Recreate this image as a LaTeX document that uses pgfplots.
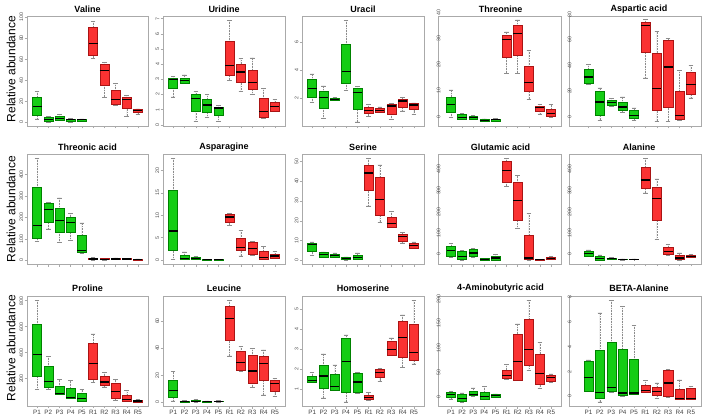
\documentclass[border=0pt]{standalone}
\usepackage{fontspec}
\setmainfont{Liberation Sans}
\usepackage{pgfplots}
\pgfplotsset{compat=1.18}
\usepgfplotslibrary{statistics}
\definecolor{gfill}{RGB}{20,205,20}
\definecolor{gline}{RGB}{0,130,0}
\definecolor{rfill}{RGB}{250,50,50}
\definecolor{rline}{RGB}{170,20,20}
\definecolor{wcol}{RGB}{140,140,140}
\definecolor{frm}{RGB}{170,170,170}
\pgfplotsset{
  /pgfplots/boxplot/draw/lower whisker/.code={%
    \draw[wcol, line width=0.4pt, dash pattern=on 0.8pt off 0.8pt]
      (boxplot cs:\pgfplotsboxplotvalue{lower whisker}) -- (boxplot cs:\pgfplotsboxplotvalue{lower quartile});
    \draw[wcol, line width=0.4pt, solid]
      (boxplot whisker cs:\pgfplotsboxplotvalue{lower whisker},0) -- (boxplot whisker cs:\pgfplotsboxplotvalue{lower whisker},1);
  },
  /pgfplots/boxplot/draw/upper whisker/.code={%
    \draw[wcol, line width=0.4pt, dash pattern=on 0.8pt off 0.8pt]
      (boxplot cs:\pgfplotsboxplotvalue{upper whisker}) -- (boxplot cs:\pgfplotsboxplotvalue{upper quartile});
    \draw[wcol, line width=0.4pt, solid]
      (boxplot whisker cs:\pgfplotsboxplotvalue{upper whisker},0) -- (boxplot whisker cs:\pgfplotsboxplotvalue{upper whisker},1);
  },
  panel/.style={
    scale only axis, anchor=north west, height=110pt,
    axis line style={frm, line width=0.6pt},
    tick style={frm, line width=0.4pt},
    tick align=outside, major tick length=2.5pt,
    xtick={1,...,10}, xticklabel=\empty,
    xtick pos=left, ytick pos=left,
    yticklabel style={font=\fontsize{5.2}{6}\selectfont, text=black!70, rotate=90, anchor=south, inner sep=1pt},
    /pgf/number format/assume math mode=true,
    boxplot/draw direction=y,
    boxplot/box extend=0.8, boxplot/whisker extend=0.4,
    boxplot/every median/.style={draw=black, line width=1.2pt},
    clip=false,
  },
  c1/.style={panel, at={(27pt,#1)}, width=121pt, xmin=0.1, xmax=10.9},
  c2/.style={panel, at={(163pt,#1)}, width=122pt, xmin=0.1, xmax=10.9},
  c3/.style={panel, at={(302pt,#1)}, width=122pt, xmin=0.1, xmax=10.9},
  c4/.style={panel, at={(438pt,#1)}, width=123pt, xmin=-0.17, xmax=10.9,
     ytick style={draw=none}, yticklabel style={anchor=north, xshift=5.5pt}},
  c5/.style={panel, at={(569pt,#1)}, width=132pt, xmin=-0.71, xmax=10.88,
     ytick style={draw=none}, yticklabel style={anchor=north, xshift=5.5pt}},
  bot/.style={xticklabels={P1,P2,P3,P4,P5,R1,R2,R3,R4,R5},
     xticklabel style={font=\fontsize{6.3}{7}\selectfont, text=black!75, inner sep=1pt}},
}
\newcommand{\gb}[6]{\addplot[draw=gline, fill=gfill, line width=0.4pt, boxplot prepared={draw position=#1, upper whisker=#2, upper quartile=#3, median=#4, lower quartile=#5, lower whisker=#6}] coordinates {};}
\newcommand{\rb}[6]{\addplot[draw=rline, fill=rfill, line width=0.4pt, boxplot prepared={draw position=#1, upper whisker=#2, upper quartile=#3, median=#4, lower quartile=#5, lower whisker=#6}] coordinates {};}
\begin{document}
\begin{tikzpicture}
\path[use as bounding box] (0,0) rectangle (704pt,418pt);
% ---------- titles and y labels
\begin{scope}[every node/.style={font=\fontsize{9}{10}\selectfont\bfseries}]
\node at (87.5pt,409pt) {Valine};
\node at (224pt,409pt) {Uridine};
\node at (363pt,409pt) {Uracil};
\node at (500.5pt,409pt) {Threonine};
\node at (639pt,409pt) {Aspartic acid};
\node at (87.5pt,271pt) {Threonic acid};
\node at (224pt,271pt) {Asparagine};
\node at (363pt,271pt) {Serine};
\node at (500.5pt,271pt) {Glutamic acid};
\node at (639pt,271pt) {Alanine};
\node at (87.5pt,129.5pt) {Proline};
\node at (224pt,129.5pt) {Leucine};
\node at (363pt,129.5pt) {Homoserine};
\node at (500.5pt,129.5pt) {4-Aminobutyric acid};
\node at (639pt,129.5pt) {BETA-Alanine};
\end{scope}
\begin{scope}[every node/.style={font=\fontsize{12}{13}\selectfont, rotate=90}]
\node at (11pt,349pt) {Relative abundance};
\node at (11pt,209pt) {Relative abundance};
\node at (11pt,70pt) {Relative abundance};
\end{scope}
% ================= Row 1
\begin{axis}[c1=402pt, ymin=-3.4, ymax=100.9, ytick={0,20,...,100}]
\gb{1}{29.7}{24}{15}{7}{3.5}
\gb{2}{6}{4.7}{2.8}{1}{0.5}
\gb{3}{7.8}{6}{4}{2.5}{2}
\gb{4}{3.7}{3.4}{2.5}{1}{0.5}
\gb{5}{3.4}{3}{2.5}{1.5}{1.2}
\rb{6}{96}{90}{74.5}{64}{61}
\rb{7}{57}{55}{49.4}{35}{24}
\rb{8}{37}{31}{21.6}{17}{16.5}
\rb{9}{25.6}{24}{22}{13.4}{6}
\rb{10}{13}{12.5}{11}{9.4}{7.8}
\end{axis}
\begin{axis}[c2=402pt, ymin=-0.08, ymax=7.17, ytick={0,1,...,7}]
\gb{1}{3.2}{3.06}{2.98}{2.4}{1.84}
\gb{2}{3.3}{3.1}{2.9}{2.75}{2.75}
\gb{3}{2.2}{2}{1.75}{0.92}{0.22}
\gb{4}{2}{1.68}{1.3}{0.85}{0.48}
\gb{5}{1.3}{1.18}{1.1}{0.66}{0.22}
\rb{6}{6.9}{5.5}{3.9}{3.28}{2.95}
\rb{7}{4.38}{3.98}{3.48}{2.78}{2.19}
\rb{8}{4.42}{3.6}{2.78}{2.34}{2.0}
\rb{9}{2.4}{1.73}{0.85}{0.48}{0.44}
\rb{10}{1.68}{1.47}{1.18}{0.92}{0.92}
\end{axis}
\begin{axis}[c3=402pt, ymin=0.04, ymax=7.83, ytick={2,4,6}]
\gb{1}{3.74}{3.32}{2.68}{2.09}{1.70}
\gb{2}{2.89}{2.49}{2.05}{1.30}{0.57}
\gb{3}{2.05}{1.98}{1.91}{1.86}{1.84}
\gb{4}{7.54}{5.85}{3.88}{3.08}{2.56}
\gb{5}{2.85}{2.75}{2.42}{1.25}{0.33}
\rb{6}{1.58}{1.35}{1.11}{0.92}{0.73}
\rb{7}{1.39}{1.27}{1.15}{1.01}{1.0}
\rb{8}{1.63}{1.58}{1.46}{0.87}{0.5}
\rb{9}{2.05}{1.95}{1.81}{1.39}{1.11}
\rb{10}{1.67}{1.63}{1.53}{1.20}{0.85}
\end{axis}
\begin{axis}[c4=402pt, ymin=-1.5, ymax=40.8, ytick={0,10,...,40}]
\gb{1}{12.4}{9.6}{6.7}{3.8}{1.7}
\gb{2}{3.4}{2.9}{1.9}{1.3}{1.0}
\gb{3}{2.6}{2.2}{1.7}{1.15}{1.0}
\gb{4}{1.3}{1.0}{0.65}{0.4}{0.3}
\gb{5}{1.4}{1.3}{1.0}{0.5}{0.4}
\rb{6}{34.7}{33.6}{31.9}{24.9}{18.8}
\rb{7}{39.3}{37.3}{34.1}{25.8}{18.8}
\rb{8}{27.7}{21.5}{15.2}{11.9}{8.8}
\rb{9}{6.8}{6.1}{5.5}{4.1}{3.2}
\rb{10}{6.7}{5.1}{3.2}{2.3}{1.9}
\end{axis}
\begin{axis}[c5=402pt, ymin=-3, ymax=83, ytick={0,20,...,80}]
\gb{1}{45.2}{41.3}{35.3}{30.8}{29.5}
\gb{2}{26.9}{24.3}{15.7}{5.5}{1.6}
\gb{3}{18.6}{17.2}{15.1}{13.1}{12.5}
\gb{4}{19.8}{15.7}{11.8}{9.2}{7.8}
\gb{5}{11.2}{9.4}{5.2}{2.9}{1.6}
\rb{6}{80.5}{77.9}{75.8}{54.9}{34.7}
\rb{7}{70.8}{53.9}{26.4}{9.2}{0.8}
\rb{8}{65.3}{64.3}{43.1}{11.8}{0.8}
\rb{9}{40.5}{24.3}{5.2}{2.1}{1.3}
\rb{10}{44.5}{39.4}{29.5}{21.7}{19.1}
\end{axis}
% ================= Row 2
\begin{axis}[c1=264pt, ymin=-17.5, ymax=496, ytick={0,100,...,400}]
\gb{1}{477}{341}{164}{102}{87}
\gb{2}{271}{264}{236}{177}{147}
\gb{3}{291}{242}{187}{132}{82}
\gb{4}{220}{199}{175}{129}{93}
\gb{5}{175}{118}{47}{36}{33}
\rb{6}{12.6}{9.3}{6}{3.1}{2}
\rb{7}{9.3}{8}{5}{3.5}{2}
\rb{8}{11}{9.3}{6}{5}{3}
\rb{9}{9.3}{8}{6}{5}{3}
\rb{10}{6}{5}{3.5}{2}{1.5}
\end{axis}
\begin{axis}[c2=264pt, ymin=-0.9, ymax=23.7, ytick={0,5,...,20}]
\gb{1}{22.8}{15.7}{6.5}{2.2}{0.15}
\gb{2}{1.8}{1.05}{0.3}{0.15}{0.1}
\gb{3}{0.75}{0.6}{0.3}{0.15}{0.1}
\gb{4}{0.1}{0.08}{0.05}{0.03}{0.02}
\gb{5}{0.1}{0.08}{0.05}{0.03}{0.02}
\rb{6}{10.4}{10.2}{9.6}{8.5}{7.8}
\rb{7}{6.7}{4.8}{2.75}{2.1}{0.9}
\rb{8}{4.1}{3.9}{2.6}{1.35}{1.05}
\rb{9}{3.0}{1.9}{0.6}{0.2}{0.2}
\rb{10}{1.9}{1.35}{0.9}{0.45}{0.35}
\end{axis}
\begin{axis}[c3=264pt, ymin=-1.75, ymax=53.65, ytick={0,10,...,50}]
\gb{1}{9.4}{8.5}{8}{4.7}{2.5}
\gb{2}{4.4}{4}{3}{1.9}{1.7}
\gb{3}{3.9}{3}{2.5}{1.9}{1.7}
\gb{4}{1.9}{1.7}{1.0}{0.5}{0.3}
\gb{5}{3.9}{2.85}{1.7}{0.7}{0.5}
\rb{6}{51.6}{48.2}{44.1}{35.2}{27.6}
\rb{7}{48.2}{41.9}{30.7}{22.6}{19.4}
\rb{8}{24.8}{22}{18.8}{16.9}{16.7}
\rb{9}{14.1}{13.4}{12.2}{9.7}{8.9}
\rb{10}{9.4}{8.7}{7.5}{6.4}{6.0}
\end{axis}
\begin{axis}[c4=264pt, ymin=-18.6, ymax=498, ytick={0,100,...,400}]
\gb{1}{80}{63}{44}{20}{13}
\gb{2}{45}{41}{17}{3}{1}
\gb{3}{56}{52}{33}{17}{14}
\gb{4}{9}{7}{3.3}{1}{0.5}
\gb{5}{28}{19}{9.4}{1.4}{0.8}
\rb{6}{479}{464}{420}{366}{347}
\rb{7}{397}{366}{279}{188}{149}
\rb{8}{220}{118}{9.4}{3.3}{1.5}
\rb{9}{3.3}{2.5}{1.5}{0.8}{0.5}
\rb{10}{15.7}{11}{6.3}{3.3}{2}
\end{axis}
\begin{axis}[c5=264pt, ymin=-18.8, ymax=498, ytick={0,100,...,400}]
\gb{1}{47}{41}{31}{17}{16}
\gb{2}{24}{16}{8}{0.5}{0.3}
\gb{3}{11}{9}{7}{4}{3}
\gb{4}{6}{4.5}{3}{1.5}{0.5}
\gb{5}{6}{5}{3.5}{2}{1.5}
\rb{6}{479}{434}{376}{337}{315}
\rb{7}{381}{342}{290}{188}{97}
\rb{8}{75}{60}{41}{28}{23.5}
\rb{9}{34}{23.5}{9.4}{1.6}{1.2}
\rb{10}{25}{22}{17.4}{12.7}{11}
\end{axis}
% ================= Row 3
\begin{axis}[c1=122pt, bot, ymin=-10.4, ymax=836, ytick={200,400,...,800}]
\gb{1}{805}{621}{384}{220}{118}
\gb{2}{373}{294}{179}{131}{116}
\gb{3}{192}{139}{85}{77}{77}
\gb{4}{185}{123}{57}{47}{47}
\gb{5}{116}{87}{47}{28}{28}
\rb{6}{545}{476}{315}{192}{174}
\rb{7}{251}{220}{174}{149}{136}
\rb{8}{192}{166}{103}{51}{34}
\rb{9}{110}{72}{39}{26}{26}
\rb{10}{39}{36}{28}{21}{21}
\end{axis}
\begin{axis}[c2=122pt, bot, ymin=-2.8, ymax=78.5, ytick={0,20,...,60}]
\gb{1}{22.6}{16.5}{8.6}{3.4}{1}
\gb{2}{1.5}{1.0}{0.6}{0.3}{0.2}
\gb{3}{2.0}{1.2}{0.7}{0.4}{0.2}
\gb{4}{1.0}{0.8}{0.5}{0.3}{0.2}
\gb{5}{1.2}{1.0}{0.7}{0.4}{0.3}
\rb{6}{75.5}{70.6}{62}{46}{34.2}
\rb{7}{41.5}{37.4}{29.5}{23.9}{23.1}
\rb{8}{39.8}{34.9}{23.1}{14}{11.1}
\rb{9}{38.6}{34.2}{28.8}{16}{5.4}
\rb{10}{17.7}{16.5}{14}{7.8}{4.1}
\end{axis}
\begin{axis}[c3=122pt, bot, ymin=0.17, ymax=5.64, ytick={1,...,5}]
\gb{1}{1.86}{1.66}{1.45}{1.36}{1.33}
\gb{2}{2.77}{2.22}{1.66}{1.08}{0.57}
\gb{3}{2.22}{1.73}{1.15}{0.98}{0.95}
\gb{4}{3.71}{3.56}{2.39}{0.84}{0.37}
\gb{5}{1.83}{1.79}{1.36}{0.84}{0.82}
\rb{6}{0.84}{0.70}{0.60}{0.50}{0.48}
\rb{7}{2.05}{1.99}{1.83}{1.58}{1.40}
\rb{8}{3.56}{3.38}{2.98}{2.68}{2.68}
\rb{9}{4.70}{4.38}{3.59}{2.60}{2.10}
\rb{10}{5.44}{4.22}{2.82}{2.44}{2.27}
\end{axis}
\begin{axis}[c4=122pt, bot, ymin=-7.8, ymax=217.3, ytick={0,50,...,200}]
\gb{1}{22.5}{20.5}{15.8}{10.9}{6.8}
\gb{2}{19}{16}{8}{1.5}{0.5}
\gb{3}{29.3}{22.5}{15}{13.7}{13}
\gb{4}{32.8}{21.1}{12.3}{6.8}{5.5}
\gb{5}{17}{15.8}{13.7}{10.9}{10.9}
\rb{6}{77.3}{65}{54.7}{49.8}{46.5}
\rb{7}{160.5}{138.8}{84}{45}{44}
\rb{8}{209}{169.5}{108}{75}{65}
\rb{9}{123}{97.8}{58}{36.3}{28}
\rb{10}{58}{55.4}{49.8}{43}{41.6}
\end{axis}
\begin{axis}[c5=122pt, bot, ymin=-0.33, ymax=8.55, ytick={0,2,...,8}]
\gb{1}{3.39}{3.26}{2.0}{0.86}{0.86}
\gb{2}{7.2}{4.14}{0.75}{0.32}{0}
\gb{3}{8.22}{4.78}{1.15}{0.86}{0.78}
\gb{4}{7.71}{4.27}{0.72}{0.54}{0.46}
\gb{5}{6.19}{3.47}{0.72}{0.59}{0.59}
\rb{6}{1.74}{1.34}{0.94}{0.78}{0.75}
\rb{7}{1.55}{1.2}{0.86}{0.54}{0.27}
\rb{8}{2.64}{2.54}{1.52}{0.46}{0.35}
\rb{9}{1.79}{1.02}{0.27}{0.22}{0.22}
\rb{10}{1.26}{1.12}{0.27}{0.22}{0.22}
\end{axis}
\end{tikzpicture}
\end{document}
